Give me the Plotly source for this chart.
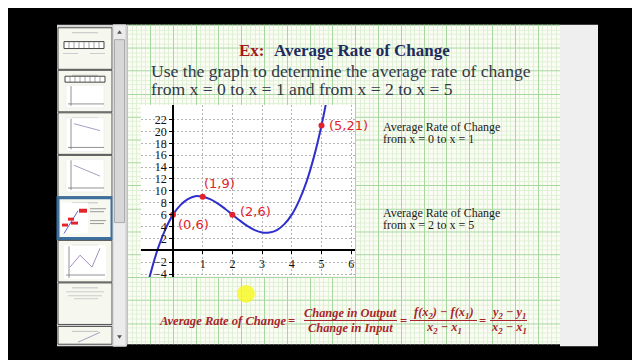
import plotly.graph_objects as go

W, H = 640, 360

# ---------------- data ----------------
curve_x = [-1.0, -0.75, -0.5, -0.25, 0.0, 0.25, 0.5, 0.75, 1.0, 1.25, 1.5, 1.75, 2.0,
           2.25, 2.5, 2.75, 3.0, 3.25, 3.5, 3.75, 4.0, 4.25, 4.5, 4.75, 5.0, 5.25]
curve_y = [-9.0, -3.8, 0.4, 3.6, 6.0, 7.6, 8.6, 9.1, 9.0, 8.6, 7.9, 7.0, 6.0,
           5.0, 4.1, 3.4, 3.0, 3.0, 3.4, 4.4, 6.0, 8.4, 11.6, 15.8, 21.0, 27.3]
pt_x = [0, 1, 2, 5]
pt_y = [6, 9, 6, 21]
pt_labels = ["(0,6)", "(1,9)", "(2,6)", "(5,21)"]
x_tick_vals = [1, 2, 3, 4, 5, 6]
x_tick_text = ["1", "2", "3", "4", "5", "6"]
y_tick_vals = [-4, -2, 2, 4, 6, 8, 10, 12, 14, 16, 18, 20, 22]
y_tick_text = ["−4", "−2", "2", "4", "6", "8", "10", "12", "14", "16", "18", "20", "22"]

title_ex = "Ex:"
title_main = "Average Rate of Change"
prompt_lines = ["Use the graph to determine the average rate of change",
                "from x = 0 to x = 1 and from x = 2 to x = 5"]
side_blocks = [["Average Rate of Change", "from x = 0 to x = 1"],
               ["Average Rate of Change", "from x = 2 to x = 5"]]
formula_lhs = "Average Rate of Change"
formula_fracs = [("Change in Output", "Change in Input"),
                 ("f(x<sub>2</sub>) − f(x<sub>1</sub>)", "x<sub>2</sub> − x<sub>1</sub>"),
                 ("y<sub>2</sub> − y<sub>1</sub>", "x<sub>2</sub> − x<sub>1</sub>")]


def X(p):
    return p / W


def Y(p):
    return 1 - p / H


shapes = []
annotations = []


def rect(x0, y0, x1, y1, fill, line=None, lw=0, layer="below"):
    shapes.append(dict(type="rect", xref="paper", yref="paper",
                       x0=X(x0), x1=X(x1), y0=Y(y1), y1=Y(y0),
                       fillcolor=fill, line=dict(color=line or fill, width=lw),
                       layer=layer))


def hline(x0, x1, y, color, lw=1, layer="below"):
    shapes.append(dict(type="line", xref="paper", yref="paper",
                       x0=X(x0), x1=X(x1), y0=Y(y), y1=Y(y),
                       line=dict(color=color, width=lw), layer=layer))


def seg(x0, y0, x1, y1, color, lw=1, layer="below"):
    shapes.append(dict(type="line", xref="paper", yref="paper",
                       x0=X(x0), x1=X(x1), y0=Y(y0), y1=Y(y1),
                       line=dict(color=color, width=lw), layer=layer))


def text(x, y, s, size, color, family="Liberation Serif", xanchor="left"):
    annotations.append(dict(xref="paper", yref="paper", x=X(x), y=Y(y), text=s,
                            showarrow=False, xanchor=xanchor, yanchor="middle",
                            font=dict(family=family, size=size, color=color)))


# main graph panel (pixels) -- the white plot background shows through here
PX0, PX1, PY0, PY1 = 133, 347, 98, 272

# ---------------- grid-paper slide background (kept out of the panel) ----------------
gx0, gx1, gstep_x, gorg_x = 119, 552, 22.8, 142
gy0, gy1, gstep_y, gorg_y = 17, 340, 23.2, 17
grid_major = "#a6d79f"
grid_minor = "#e0f0d6"
paper_fill = "#fbfdf4"
rect(gx0, gy0, gx1, PY0, paper_fill)
rect(gx0, PY1, gx1, gy1, paper_fill)
rect(gx0, PY0, PX0, PY1, paper_fill)
rect(PX1, PY0, gx1, PY1, paper_fill)

minor_v, major_v, minor_h, major_h = [], [], [], []
k = -10
while True:
    xx = gorg_x + k * gstep_x / 5
    if xx > gx1:
        break
    if xx >= gx0:
        (major_v if k % 5 == 0 else minor_v).append(round(xx) + 0.5)
    k += 1
k = 0
while True:
    yy = gorg_y + k * gstep_y / 5
    if yy > gy1:
        break
    (major_h if k % 5 == 0 else minor_h).append(round(yy) + 0.5)
    k += 1


def vgrid(xx, color):
    if PX0 <= xx <= PX1:
        seg(xx, gy0, xx, PY0, color, 1)
        seg(xx, PY1, xx, gy1, color, 1)
    else:
        seg(xx, gy0, xx, gy1, color, 1)


def hgrid(yy, color):
    if PY0 <= yy <= PY1:
        hline(gx0, PX0, yy, color, 1)
        hline(PX1, gx1, yy, color, 1)
    else:
        hline(gx0, gx1, yy, color, 1)


for xx in minor_v:
    vgrid(xx, grid_minor)
for yy in minor_h:
    hgrid(yy, grid_minor)
for xx in major_v:
    vgrid(xx, grid_major)
for yy in major_h:
    hgrid(yy, grid_major)

# ---------------- window chrome ----------------
rect(49, 17, 119, 342, "#d6d6d6")
thumbs = [(20, 62), (63, 105), (106, 148), (149, 191), (192, 233), (235, 277), (278, 320), (322, 340)]
for i, (t0, t1) in enumerate(thumbs):
    if i == 4:
        rect(50, t0, 104, t1, "#f7f9f0", "#3d6f9f", 3)
    else:
        rect(50, t0, 104, t1, "#f6f8ef", "#4f4f4f", 1)
    hline(64, 90, t0 + 5, "#c2c2c2", 1)
rect(56, 34, 96, 41, "#ffffff", "#444444", 1)
for xx in [61, 66, 71, 76, 81, 86, 91]:
    seg(xx, 34, xx, 41, "#666666", 0.6)
hline(55, 70, 46, "#cccccc", 1)
hline(82, 97, 46, "#cccccc", 1)
rect(57, 69, 97, 75, "#ffffff", "#444444", 1)
for xx in [62, 67, 72, 77, 82, 87, 92]:
    seg(xx, 69, xx, 75, "#666666", 0.6)
for (g0, g1) in [(78, 101), (111, 145), (153, 186)]:
    rect(58, g0, 96, g1, "#ffffff", "#e4e4e4", 0.5)
    seg(63, g0 + 1, 63, g1 - 2, "#777777", 0.8)
    hline(60, 96, g1 - 4, "#777777", 0.8)
seg(66, 117, 92, 124, "#8a8ab0", 0.8)
seg(66, 159, 92, 170, "#8a8ab0", 0.8)
rect(53, 197, 80, 228, "#ffffff")
seg(56, 228, 70, 205, "#3a3ad0", 0.8)
for (a, b, c, d) in [(71, 203, 79, 207), (60, 212, 66, 215), (54, 218, 60, 221), (63, 216, 70, 219)]:
    rect(a, b, c, d, "#e3242b")
hline(82, 98, 203, "#999999", 1)
hline(82, 96, 206, "#999999", 1)
hline(82, 98, 215, "#999999", 1)
hline(82, 96, 218, "#999999", 1)
rect(56, 240, 98, 274, "#ffffff")
seg(61, 241, 61, 273, "#777777", 0.8)
hline(58, 97, 270, "#777777", 0.8)
seg(62, 262, 72, 250, "#8c6fb0", 0.8)
seg(72, 250, 84, 262, "#8c6fb0", 0.8)
seg(84, 262, 92, 243, "#8c6fb0", 0.8)
hline(58, 96, 287, "#cccccc", 1)
hline(60, 94, 291, "#cccccc", 1)
hline(66, 90, 294, "#cccccc", 1)
seg(70, 338, 92, 328, "#8a8ab0", 0.8)
rect(105, 17, 118, 342, "#ececec", "#c9c9c9", 1)
rect(106.5, 32, 116.5, 217, "#d7d7d7", "#ababab", 1)
shapes.append(dict(type="path", xref="paper", yref="paper",
                   path=f"M {X(109)} {Y(26)} L {X(114)} {Y(26)} L {X(111.5)} {Y(22.5)} Z",
                   fillcolor="#555555", line=dict(width=0), layer="above"))
shapes.append(dict(type="path", xref="paper", yref="paper",
                   path=f"M {X(109)} {Y(331)} L {X(114)} {Y(331)} L {X(111.5)} {Y(334.5)} Z",
                   fillcolor="#555555", line=dict(width=0), layer="above"))
rect(552, 17, 590, 342, "#efefef")

# ---------------- texts ----------------
text(229, 43, f"<b>{title_ex}</b>", 17, "#a3191d")
text(264, 43, f"<b>{title_main}</b>", 17, "#1d2b5f")
text(141, 64, prompt_lines[0], 17.6, "#323848")
text(141, 82, prompt_lines[1], 17.6, "#323848")
for (yy, blk) in zip([120, 207], side_blocks):
    text(373, yy, blk[0], 12, "#1a1a1a")
    text(373, yy + 12.5, blk[1], 12, "#1a1a1a")

red = "#a8252b"
text(149, 317, f"<b><i>{formula_lhs}</i></b>", 12.6, red)
text(283, 317, "<b>=</b>", 12.6, red, xanchor="center")
frac_geo = [(296, 389), (402, 469), (482, 519)]
for (num, den), (a, b) in zip(formula_fracs, frac_geo):
    c = (a + b) / 2
    text(c, 308, f"<b><i>{num}</i></b>", 12.4, red, xanchor="center")
    text(c, 324, f"<b><i>{den}</i></b>", 12.4, red, xanchor="center")
    hline(a, b, 316, red, 1.2, layer="above")
text(395, 317, "<b>=</b>", 12.6, red, xanchor="center")
text(474, 317, "<b>=</b>", 12.6, red, xanchor="center")

shapes.append(dict(type="circle", xref="paper", yref="paper",
                   x0=X(229), x1=X(247), y0=Y(298), y1=Y(280),
                   fillcolor="rgba(248,248,40,0.85)", line=dict(width=0), layer="above"))

# ---------------- main graph ----------------
x_range = [-1.077, 6.128]
y_range = [-4.49, 24.46]
xdom = [PX0 / W, PX1 / W]
ydom = [1 - PY1 / H, 1 - PY0 / H]
xpos = xdom[0] + (0 - x_range[0]) / (x_range[1] - x_range[0]) * (xdom[1] - xdom[0])
ypos = ydom[0] + (0 - y_range[0]) / (y_range[1] - y_range[0]) * (ydom[1] - ydom[0])

fig = go.Figure()
fig.add_trace(go.Scatter(x=curve_x, y=curve_y, mode="lines",
                         line=dict(color="#2f2fcc", width=2, shape="spline"),
                         hoverinfo="skip", showlegend=False))
fig.add_trace(go.Scatter(x=pt_x, y=pt_y, mode="markers",
                         marker=dict(color="#e3222b", size=6), cliponaxis=False,
                         hoverinfo="skip", showlegend=False))

shifts = [(21, -10), (17, 13), (23, 3), (27, 0)]
for xv, yv, lab, (dx, dy) in zip(pt_x, pt_y, pt_labels, shifts):
    annotations.append(dict(xref="x", yref="y", x=xv, y=yv, text=lab, showarrow=False,
                            xshift=dx, yshift=dy, xanchor="center", yanchor="middle",
                            font=dict(family="DejaVu Sans", size=13, color="#e3222b")))

grid_dash_color = "#b4b4b4"
fig.update_layout(
    width=W, height=H, margin=dict(l=0, r=0, t=0, b=0),
    paper_bgcolor="#000000", plot_bgcolor="#ffffff",
    shapes=shapes, annotations=annotations, showlegend=False,
    xaxis=dict(domain=xdom, range=x_range, anchor="free", position=ypos,
               showline=True, linecolor="#000000", linewidth=1.6,
               tickvals=x_tick_vals, ticktext=x_tick_text, ticks="outside", ticklen=3,
               tickcolor="#000000", tickfont=dict(family="Liberation Serif", size=12, color="#111111"),
               showgrid=True, gridcolor=grid_dash_color, gridwidth=1, griddash="2px,2px",
               zeroline=False, fixedrange=True),
    yaxis=dict(domain=ydom, range=y_range, anchor="free", position=xpos,
               showline=True, linecolor="#000000", linewidth=1.6,
               tickvals=y_tick_vals, ticktext=y_tick_text, ticks="outside", ticklen=3,
               tickcolor="#000000", tickfont=dict(family="Liberation Serif", size=12, color="#111111"),
               showgrid=True, gridcolor=grid_dash_color, gridwidth=1, griddash="2px,2px",
               zeroline=False, fixedrange=True),
)

fig.write_html("out.html")
